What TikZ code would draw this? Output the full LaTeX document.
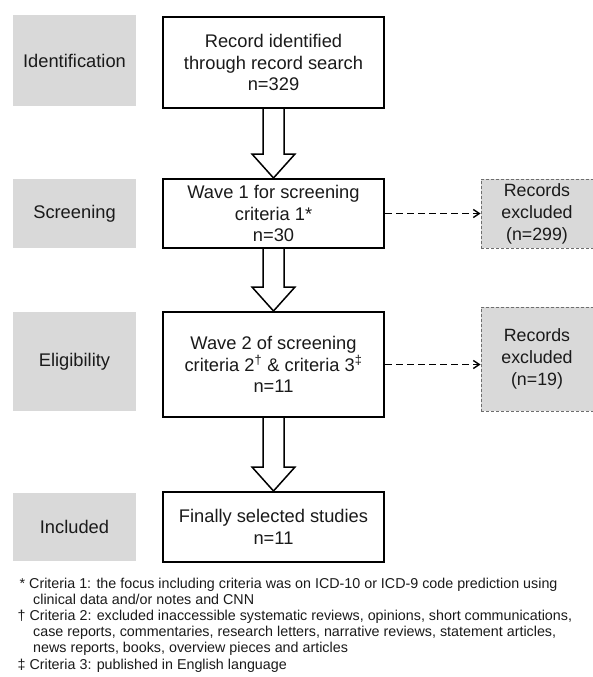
\documentclass[tikz,border=0pt]{standalone}
\usepackage{fontspec}
\setmainfont{Liberation Sans}
\usetikzlibrary{arrows.meta,calc}
\definecolor{lblgray}{HTML}{D9D9D9}
\definecolor{dashgray}{HTML}{6E6E6E}
\definecolor{txt}{HTML}{1A1A1A}
\tikzset{
  lbl/.style={fill=lblgray, minimum width=123pt, inner sep=0pt, text=txt,
    font=\fontsize{18.3}{21.5}\selectfont, align=center},
  mainbox/.style={draw=black, line width=2pt, fill=white, minimum width=221pt,
    inner sep=0pt, text=txt, font=\fontsize{18.3}{21.5}\selectfont, align=center},
  exbox/.style={draw=dashgray, dash pattern=on 3pt off 2pt, line width=0.9pt,
    fill=lblgray, minimum width=112pt, inner sep=0pt, text=txt,
    font=\fontsize{17.8}{22}\selectfont, align=center},
  hollow/.style={draw=black, line width=1.5pt, fill=white, line join=miter},
  exarrow/.style={draw=black, line width=1.7pt, dash pattern=on 6.5pt off 4.5pt,
    -{Straight Barb[length=6pt,width=8pt,line width=1.4pt]}},
  fn/.style={font=\fontsize{14.3}{16.3}\selectfont, inner sep=0pt, anchor=base west, text=txt},
}
\begin{document}
\begin{tikzpicture}[x=1pt,y=-1pt]
\useasboundingbox (0,0) rectangle (593,677);
% stage labels
\node[lbl, minimum height=91pt] (l1) at (74.5,60.5) {Identification};
\node[lbl, minimum height=69pt] (l2) at (74.5,213.5) {Screening};
\node[lbl, minimum height=99pt] (l3) at (74.5,361.5) {Eligibility};
\node[lbl, minimum height=68pt] (l4) at (74.5,527) {Included};
% main boxes
\node[mainbox, minimum height=91pt] (b1) at (273.5,62.5) {Record identified\\through record search\\n=329};
\node[mainbox, minimum height=69pt] (b2) at (273.5,213.5) {Wave 1 for screening\\criteria 1*\\n=30};
\node[mainbox, minimum height=105pt] (b3) at (273.5,364.5) {Wave 2 of screening\\criteria 2\textsuperscript{†} \& criteria 3\textsuperscript{‡}\\n=11};
\node[mainbox, minimum height=70pt] (b4) at (273.5,527) {Finally selected studies\\n=11};
% excluded boxes
\node[exbox, minimum height=69pt] (e1) at (537,213.5) {Records\\excluded\\(n=299)};
\node[exbox, minimum height=104pt] (e2) at (537,359) {Records\\excluded\\(n=19)};
% hollow arrows
\foreach \a/\b in {b1/b2, b2/b3, b3/b4}{
  \draw[hollow] ($(\a.south)+(-10.5,0)$) -- ($(\b.north)+(-10.5,-24)$)
    -- ($(\b.north)+(-21.5,-24)$) -- (\b.north) -- ($(\b.north)+(21.5,-24)$)
    -- ($(\b.north)+(10.5,-24)$) -- ($(\a.south)+(10.5,0)$);
}
% dashed arrows
\draw[exarrow] (b2.east) -- (b2.east -| e1.west);
\draw[exarrow] (b3.east) -- (b3.east -| e2.west);
% footnotes
\node[fn] (f1) at (19.5,588) {* Criteria 1: the focus including criteria was on ICD-10 or ICD-9 code prediction using};
\node[fn] (f2) at (33,604.2) {clinical data and/or notes and CNN};
\node[fn] (f3) at (17.4,620.4) {† Criteria 2: excluded inaccessible systematic reviews, opinions, short communications,};
\node[fn] (f4) at (33,636.6) {case reports, commentaries, research letters, narrative reviews, statement articles,};
\node[fn] (f5) at (33,652.8) {news reports, books, overview pieces and articles};
\node[fn] (f6) at (17.4,669) {‡ Criteria 3: published in English language};
\end{tikzpicture}
\end{document}
